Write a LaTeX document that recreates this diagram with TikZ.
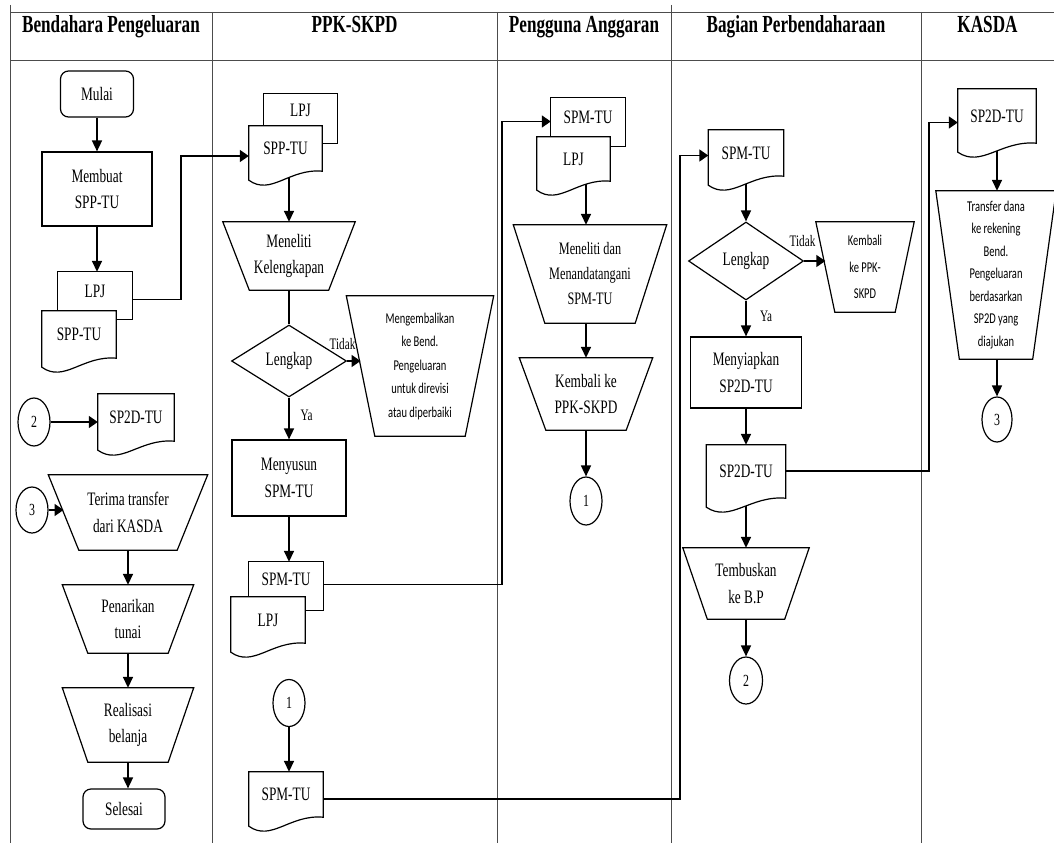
\documentclass[tikz,border=0pt]{standalone}
\usepackage{fontspec}
\setmainfont{Liberation Serif}[FakeStretch=0.7]
\newfontfamily\calfont{Carlito}[FakeStretch=0.7]
\usetikzlibrary{shapes.geometric,arrows.meta,calc}

\pgfdeclarelayer{linelayer}
\pgfdeclarelayer{shapelayer}
\pgfsetlayers{linelayer,shapelayer,main}

% font sizes
\newcommand\fbody{\fontsize{19}{26.5}\selectfont}
\newcommand\fsmall{\fontsize{17.5}{25}\selectfont}
\newcommand\fcal{\calfont\fontsize{15}{23.5}\selectfont}
\newcommand\fcalwide{\calfont\fontsize{15}{26.5}\selectfont}
\newcommand\fcaltight{\calfont\fontsize{15}{22.5}\selectfont}
\newcommand\flbl{\fontsize{16}{18}\selectfont}
\newcommand\fnum{\fontsize{17}{19}\selectfont}
\newcommand\fhead{\fontsize{24.5}{28}\selectfont\bfseries}

\tikzset{
  shapeline/.style={line width=1.2pt, draw=black},
  proc/.style={rectangle, shapeline, inner sep=0pt, align=center, font=\fbody},
  term/.style={proc, rounded corners=8pt},
  doc/.style={rectangle, inner sep=0pt, align=center, font=\fbody,
              text height=13pt, text depth=10pt},
  backdoc/.style={rectangle, inner sep=0pt, align=center, font=\fbody},
  trap/.style={rectangle, inner sep=0pt, align=center, font=\fbody},
  dec/.style={diamond, shapeline, inner sep=0pt, font=\fbody},
  onpage/.style={ellipse, shapeline, inner sep=0pt, font=\fnum},
  lbl/.style={inner sep=1pt, font=\flbl},
  head/.style={anchor=base, inner sep=0pt, font=\fhead},
  lane/.style={line width=0.9pt, draw=black!70},
  flow/.style={line width=1.6pt, draw=black},
  varr/.style={flow, -{Triangle[length=11pt,width=10pt]}},
  harr/.style={flow, -{Triangle[length=9pt,width=12pt]}},
}

% document symbol with a wavy lower edge
\newcommand\docline[1]{%
  \draw[shapeline, fill=white] (#1.south west) -- (#1.north west) -- (#1.north east)
    -- ($(#1.south east)+(0,-9)$)
    .. controls ($(#1.south west)!0.55!(#1.south east)+(0,-12)$)
            and ($(#1.south west)!0.3!(#1.south east)+(0,16)$) .. (#1.south west) -- cycle;}
% visible part of the sheet lying behind a document
\newcommand\backline[3]{%
  \draw[shapeline] (#1.south west) -- (#1.north west) -- (#1.north east)
    -- ($(#1.south east)+(0,#3)$) -| (#2.east);}
% manual operation (trapezium, wide side on top)
\newcommand\trapline[2]{%
  \draw[shapeline] ($(#1.north west)+(-#2,0)$) -- ($(#1.north east)+(#2,0)$)
    -- ($(#1.south east)+(-#2,0)$) -- ($(#1.south west)+(#2,0)$) -- cycle;}

\begin{document}
\begin{tikzpicture}[x=1pt, y=-1pt]
\useasboundingbox (0,0) rectangle (1054,843);

% ---------- lane headers ----------
\node[head] (hA) at (111,33) {Bendahara Pengeluaran};
\node[head] (hB) at (354.5,33) {PPK-SKPD};
\node[head] (hC) at (584,33) {Pengguna Anggaran};
\node[head] (hD) at (796,33) {Bagian Perbendaharaan};
\node[head] (hE) at (987.5,33) {KASDA};

% ---------- Bendahara Pengeluaran ----------
\node[term, minimum width=73, minimum height=46] (mulai) at (97,94) {Mulai};
\node[proc, minimum width=110, minimum height=74] (membuat) at (97,189) {Membuat\\SPP-TU};
\node[backdoc, minimum width=74, minimum height=39] (lpjA) at (95,291.5) {LPJ};
\node[doc, minimum width=74, minimum height=56] (sppA) at (79,339) {SPP-TU};
\node[onpage, minimum width=32, minimum height=48] (twoA) at (34,422) {2};
\node[doc, minimum width=76, minimum height=56] (sptdA) at (136,422) {SP2D-TU};
\node[onpage, minimum width=32, minimum height=46] (threeA) at (32,510) {3};
\node[trap, minimum width=128.5, minimum height=75] (terima) at (128,512.5) {Terima transfer\\dari KASDA};
\node[trap, minimum width=105.5, minimum height=68] (tarik) at (128,619) {Penarikan\\tunai};
\node[trap, minimum width=105.5, minimum height=74] (real) at (128,725) {Realisasi\\belanja};
\node[term, minimum width=82, minimum height=40] (selesai) at (124,809) {Selesai};

% ---------- PPK-SKPD ----------
\node[backdoc, minimum width=73, minimum height=32] (lpjB) at (300.5,110) {LPJ};
\node[doc, minimum width=73, minimum height=54] (sppB) at (285.5,153) {SPP-TU};
\node[trap, minimum width=105.5, minimum height=68] (teliti) at (289,256) {Meneliti\\Kelengkapan};
\node[dec, minimum width=115, minimum height=72] (lengkapA) at (289,361) {Lengkap};
\node[trap, font=\fcal, minimum width=118.5, minimum height=140] (kembalikan) at (420,366) {Mengembalikan\\ke Bend.\\Pengeluaran\\untuk direvisi\\atau diperbaiki};
\node[proc, minimum width=114, minimum height=76] (susun) at (289,478) {Menyusun\\SPM-TU};
\node[backdoc, minimum width=74, minimum height=35] (spmB) at (286,579.5) {SPM-TU};
\node[doc, minimum width=74, minimum height=55] (lpjC) at (268,624.5) {LPJ};
\node[onpage, minimum width=32, minimum height=47] (oneB) at (289,703) {1};
\node[doc, minimum width=74, minimum height=54] (spmD) at (286,799) {SPM-TU};
\node[lbl] (tidakA) at (342.5,344) {Tidak};
\node[lbl] (yaA) at (306.5,415) {Ya};

% ---------- Pengguna Anggaran ----------
\node[backdoc, minimum width=74, minimum height=39] (spmC) at (588,117.5) {SPM-TU};
\node[doc, minimum width=73, minimum height=53] (lpjD) at (573.5,163.5) {LPJ};
\node[trap, font=\fsmall, minimum width=121.5, minimum height=98] (tanda) at (590,274) {Meneliti dan\\Menandatangani\\SPM-TU};
\node[trap, minimum width=106.5, minimum height=72] (kembaliA) at (586,394) {Kembali ke\\PPK-SKPD};
\node[onpage, minimum width=32, minimum height=48] (oneA) at (586,501) {1};

% ---------- Bagian Perbendaharaan ----------
\node[doc, minimum width=75, minimum height=55] (spmE) at (746,157.5) {SPM-TU};
\node[dec, minimum width=115, minimum height=78] (lengkapB) at (746,261) {Lengkap};
\node[trap, font=\fcalwide, minimum width=79, minimum height=90] (kembaliB) at (865,267) {Kembali\\ke PPK-\\SKPD};
\node[proc, minimum width=111, minimum height=71] (siapkan) at (746,372.5) {Menyiapkan\\SP2D-TU};
\node[doc, minimum width=79, minimum height=62] (sptdB) at (746,476) {SP2D-TU};
\node[trap, minimum width=101.5, minimum height=71] (tembus) at (746,583.5) {Tembuskan\\ke B.P};
\node[onpage, minimum width=33, minimum height=47] (twoB) at (746,680.5) {2};
\node[lbl] (tidakB) at (802.5,241.5) {Tidak};
\node[lbl] (yaB) at (766,316) {Ya};

% ---------- KASDA ----------
\node[doc, minimum width=78, minimum height=63] (sptdC) at (997,120.5) {SP2D-TU};
\node[trap, font=\fcaltight, minimum width=96.5, minimum height=168] (transfer) at (996,275) {Transfer dana\\ke rekening\\Bend.\\Pengeluaran\\berdasarkan\\SP2D yang\\diajukan};
\node[onpage, minimum width=30, minimum height=45] (threeB) at (997,419.5) {3};

% ---------- symbol outlines ----------
\begin{pgfonlayer}{shapelayer}
  \backline{lpjA}{sppA}{8}
  \docline{sppA}
  \docline{sptdA}
  \backline{lpjB}{sppB}{17}
  \docline{sppB}
  \backline{spmB}{lpjC}{13}
  \docline{lpjC}
  \docline{spmD}
  \backline{spmC}{lpjD}{9}
  \docline{lpjD}
  \docline{spmE}
  \docline{sptdB}
  \docline{sptdC}
\end{pgfonlayer}
\trapline{terima}{15.25}
\trapline{tarik}{12.75}
\trapline{real}{12.75}
\trapline{teliti}{13.25}
\trapline{kembalikan}{14.25}
\trapline{tanda}{15.75}
\trapline{kembaliA}{13.25}
\trapline{kembaliB}{9.5}
\trapline{tembus}{12.25}
\trapline{transfer}{11.75}

% ---------- swimlane grid and connectors ----------
\begin{pgfonlayer}{linelayer}
  \draw[lane] (10,5) -- (10,843);
  \draw[lane] (212,12) -- (212,843);
  \draw[lane] (497,12) -- (497,843);
  \draw[lane] (671,5) -- (671,843);
  \draw[lane] (921,12) -- (921,843);
  \draw[lane] (10,12) -- (1054,12);
  \draw[lane] (10,60) -- (1054,60);

  % Bendahara Pengeluaran
  \draw[varr] (mulai.south) -- (membuat.north);
  \draw[varr] (membuat.south) -- (membuat.south |- lpjA.north);
  \draw[harr] ([yshift=-8pt]lpjA.east) -- ++(49,0) |- ([yshift=-3pt]sppB.west);
  \draw[harr] (twoA.east) -- (sptdA.west);
  \draw[harr] (threeA.east) -- (threeA.east -| terima.west);
  \draw[varr] (terima.south) -- (tarik.north);
  \draw[varr] (tarik.south) -- (real.north);
  \draw[varr] (real.south) -- (real.south |- selesai.north);

  % PPK-SKPD
  \draw[varr] (teliti.north |- sppB.center) -- (teliti.north);
  \draw[flow] (teliti.south) -- (lengkapA.north);
  \draw[harr] (lengkapA.east) -- (lengkapA.east -| kembalikan.west);
  \draw[varr] (lengkapA.south) -- (susun.north);
  \draw[varr] (susun.south) -- (susun.south |- spmB.north);
  \draw[harr] ([yshift=-5pt]spmB.east) -- ++(179,0) |- ([yshift=-4pt]spmC.west);
  \draw[varr] (oneB.south) -- (oneB.south |- spmD.north);
  \draw[harr] (spmD.east) -- ++(357,0) |- ([yshift=2pt]spmE.west);

  % Pengguna Anggaran
  \draw[varr] (kembaliA.north |- lpjD.center) -- (kembaliA.north |- tanda.north);
  \draw[varr] (kembaliA.north |- tanda.south) -- (kembaliA.north);
  \draw[varr] (kembaliA.south) -- (oneA.north);

  % Bagian Perbendaharaan
  \draw[varr] (spmE.center) -- (lengkapB.north);
  \draw[harr] (lengkapB.east) -- (lengkapB.east -| kembaliB.west);
  \draw[varr] (lengkapB.south) -- (siapkan.north);
  \draw[varr] (siapkan.south) -- (sptdB.north);
  \draw[harr] ([yshift=5pt]sptdB.east) -- ++(143,0) |- ([yshift=-2pt]sptdC.west);
  \draw[varr] (sptdB.center) -- (tembus.north);
  \draw[varr] (tembus.south) -- (twoB.north);

  % KASDA
  \draw[varr] (sptdC.center) -- (transfer.north -| sptdC.center);
  \draw[varr] (transfer.south -| threeB.north) -- (threeB.north);
\end{pgfonlayer}
\end{tikzpicture}
\end{document}
